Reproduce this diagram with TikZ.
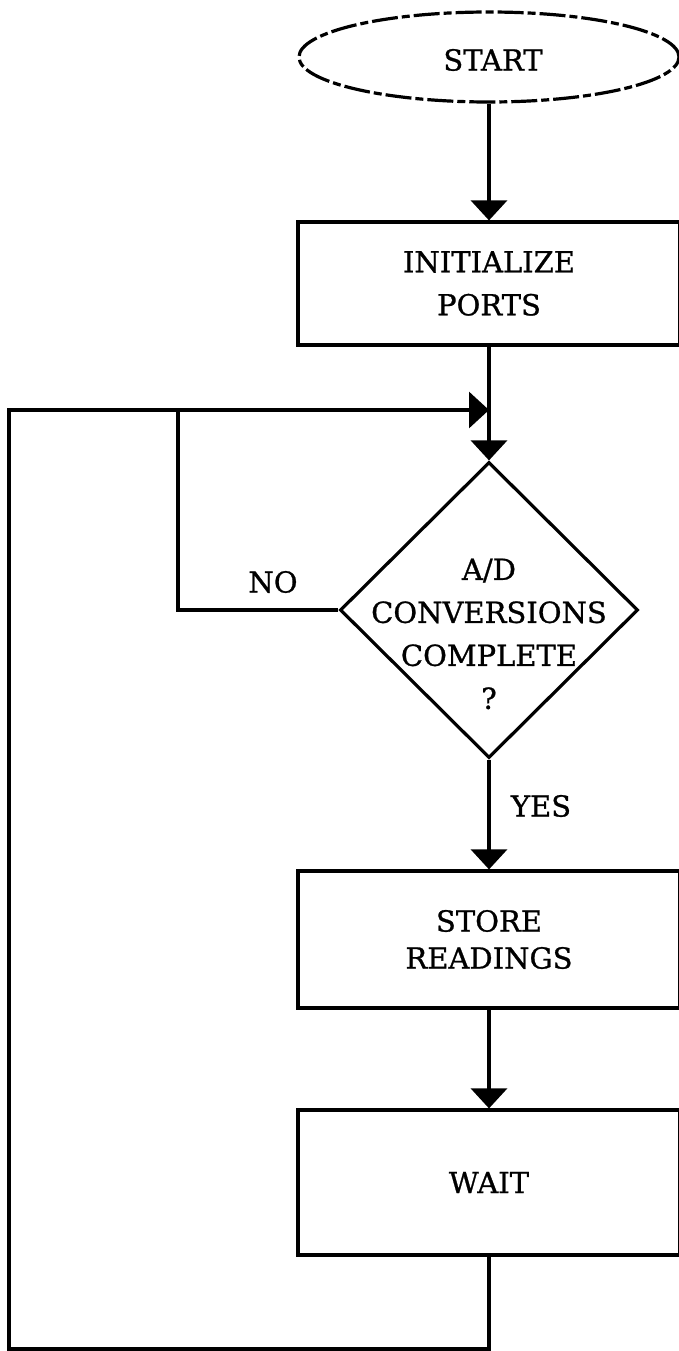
\documentclass[tikz,border=0pt]{standalone}
\usepackage{fontspec}
\setmainfont{DejaVu Serif}[FakeBold=0.9]
\usetikzlibrary{arrows.meta,shapes.geometric}
\begin{document}
\begin{tikzpicture}[x=1pt,y=-1pt,line width=3.2pt,
  txt/.style={font=\fontsize{29}{40}\selectfont,align=center,inner sep=0pt},
  procbox/.style={draw,rectangle,minimum width=382pt,inner sep=0pt,txt},
  termnode/.style={draw,ellipse,minimum width=380pt,minimum height=90pt,inner sep=0pt,txt,dash pattern=on 26pt off 4pt on 8pt off 4pt},
  decnode/.style={draw,diamond,minimum width=298pt,minimum height=296pt,inner sep=0pt},
  arr/.style={-{Triangle[width=36pt,length=20pt]}},
  lbl/.style={txt}]
\useasboundingbox (0,0) rectangle (678,1351);
\node[termnode] (start) at (489,57) {};
\node[txt] (starttext) at (493,60) {START};
\node[procbox,minimum height=123pt,font=\fontsize{29}{43}\selectfont] (init) at (489,283.5) {INITIALIZE\\PORTS};
\node[decnode] (dec) at (489,610) {};
\node[txt,font=\fontsize{29}{43}\selectfont] (dectext) at (489,634) {A/D\\CONVERSIONS\\COMPLETE\\?};
\node[procbox,minimum height=137pt,font=\fontsize{29}{37}\selectfont] (store) at (489,939.5) {STORE\\READINGS};
\node[procbox,minimum height=145pt] (wait) at (489,1182.5) {WAIT};
\node[lbl] (nolbl) at (273,582) {NO};
\node[lbl] (yeslbl) at (541,806) {YES};
\coordinate (join) at (489,410);
\coordinate (nocorner) at (178,410);
\coordinate (bl) at (9,1349);
\coordinate (tl) at (9,410);
\draw[arr] (start.south) -- (init.north);
\draw[arr] (init.south) -- (dec.north);
\draw[arr] (dec.south) -- (store.north);
\draw[arr] (store.south) -- (wait.north);
\draw (dec.west) -| (nocorner);
\draw[arr] (wait.south) |- (bl) -- (tl) -- (join);
\end{tikzpicture}
\end{document}
